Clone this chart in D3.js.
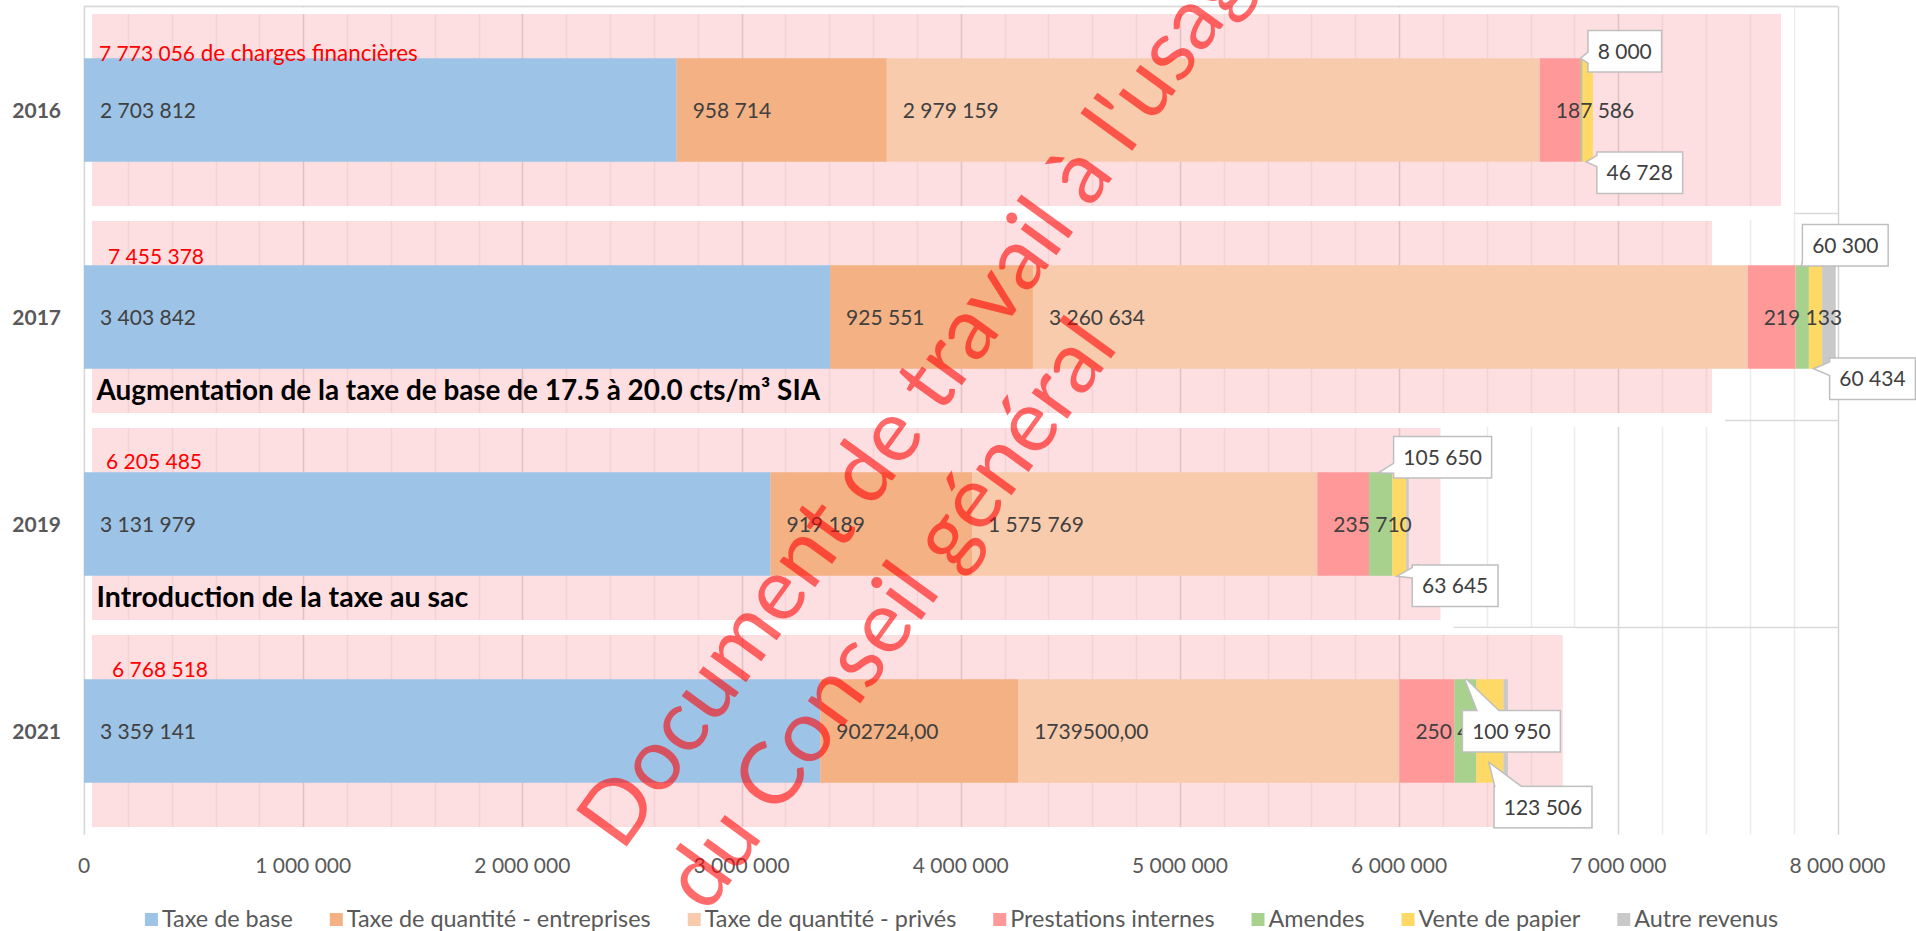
<!DOCTYPE html>
<html><head><meta charset="utf-8">
<script src="https://cdn.jsdelivr.net/npm/d3@7"></script>
<style>
html,body{margin:0;padding:0;background:#fff;overflow:hidden;}
svg{display:block;font-family:Lato,"Open Sans",sans-serif;}
</style></head><body>
<svg id="chart" width="1916" height="931"></svg>
<script>
// ---------------- DATA ----------------
const years = ["2016", "2017", "2019", "2021"];
const seriesNames = ["Taxe de base", "Taxe de quantité - entreprises", "Taxe de quantité - privés",
  "Prestations internes", "Amendes", "Vente de papier", "Autre revenus"];
const seriesColors = ["#9DC3E6", "#F4B183", "#F8CBAD", "#FF9999", "#A9D18E", "#FFD966", "#C9C9C9"];
const taxeDeBase          = [2703812, 3403842, 3131979, 3359141];
const taxeEntreprises     = [958714, 925551, 919189, 902724];
const taxePrives          = [2979159, 3260634, 1575769, 1739500];
const prestationsInternes = [187586, 219133, 235710, 250480];
const amendes             = [8000, 60300, 105650, 100950];
const venteDePapier       = [46728, 60434, 63645, 123506];
const autreRevenus        = [0, 62000, 12000, 20000];
const chargesFinancieres  = [7773056, 7455378, 6205485, 6768518];
const chargesSuffix       = [" de charges financières", "", "", ""];
const xTickValues = [0, 1000000, 2000000, 3000000, 4000000, 5000000, 6000000, 7000000, 8000000];
const annotationYears = ["2017", "2019"];
const annotationTexts = ["Augmentation de la taxe de base de 17.5 à 20.0 cts/m³ SIA", "Introduction de la taxe au sac"];
const rawFormatCells = ["2021|1", "2021|2"]; // labels shown as plain decimals in the source
const watermarkLines = ["Document de travail à l'usage", "du Conseil général"];

const seriesValues = [taxeDeBase, taxeEntreprises, taxePrives, prestationsInternes, amendes, venteDePapier, autreRevenus];
const rows = years.map((yr, i) => {
  const r = { year: yr };
  seriesValues.forEach((arr, s) => r[s] = arr[i]);
  return r;
});
const keys = seriesNames.map((_, i) => i);
const stacked = d3.stack().keys(keys)(rows);

// ---------------- LAYOUT ----------------
const svg = d3.select("#chart");
const FONT = 21;
const loc = d3.formatLocale({ decimal: ",", thousands: " ", grouping: [3], currency: ["", ""] });
const fmtGroup = loc.format(",.0f");
const fmtRaw = loc.format(".2f");

const x = d3.scaleLinear().domain([0, 8000000]).range([84, 1837.5]);
const y = d3.scaleBand().domain(years).range([6.5, 834.5]).paddingInner(0.5).paddingOuter(0.25);
const yCat = d3.scaleBand().domain(years).range([6.5, 834.5]);
const xPink = d3.scaleLinear().domain([0, 8000000]).range([92, 1830.4]);
const yPink = d3.scaleBand().domain(years).range([6.5, 834.5]).paddingInner(0.0725).paddingOuter(0.036);

const gridVals = d3.range(0, 8000001, 200000);
const isMajor = v => v % 1000000 === 0;
const gx = v => Math.round(x(v)) + 0.5;

// 1. gridlines on white
const gGrid = svg.append("g");
gGrid.selectAll("line.v").data(gridVals).join("line")
  .attr("x1", gx).attr("x2", gx).attr("y1", 6.5).attr("y2", 834.5)
  .attr("stroke", d => isMajor(d) ? "#D4D4D4" : "#ECECEC").attr("stroke-width", 1.5);
gGrid.selectAll("line.h").data(years).join("line")
  .attr("x1", 84).attr("x2", 1838).attr("y1", d => yCat(d)).attr("y2", d => yCat(d))
  .attr("stroke", "#D9D9D9").attr("stroke-width", 1.5);

// 2. white covers + pink bars (financial charges)
const covers = svg.append("g");
covers.selectAll("rect").data(years).join("rect")
  .attr("x", 85)
  .attr("y", d => Math.max(yPink(d) - 7, 7.5))
  .attr("width", (d, i) => xPink(chargesFinancieres[i]) + 13 - 85)
  .attr("height", d => yPink(d) + yPink.bandwidth() + 14 - Math.max(yPink(d) - 7, 7.5))
  .attr("fill", "#fff");
const defs = svg.append("defs");
const clip = defs.append("clipPath").attr("id", "pinkClip");
clip.selectAll("rect").data(years).join("rect")
  .attr("x", xPink(0)).attr("y", d => yPink(d))
  .attr("width", (d, i) => xPink(chargesFinancieres[i]) - xPink(0))
  .attr("height", yPink.bandwidth());
svg.append("g").selectAll("rect").data(years).join("rect")
  .attr("x", xPink(0)).attr("y", d => yPink(d))
  .attr("width", (d, i) => xPink(chargesFinancieres[i]) - xPink(0))
  .attr("height", yPink.bandwidth())
  .attr("fill", "#FDDFE1");
svg.append("g").attr("clip-path", "url(#pinkClip)")
  .selectAll("line").data(gridVals).join("line")
  .attr("x1", gx).attr("x2", gx).attr("y1", 6.5).attr("y2", 834.5)
  .attr("stroke", d => isMajor(d) ? "#E2C0C3" : "#F3D2D5").attr("stroke-width", 1.5);

// top border + category axis line
svg.append("line").attr("x1", 84).attr("x2", 1838).attr("y1", 6.5).attr("y2", 6.5)
  .attr("stroke", "#D9D9D9").attr("stroke-width", 1.5);
svg.append("line").attr("x1", 84.5).attr("x2", 84.5).attr("y1", 6.5).attr("y2", 834.5)
  .attr("stroke", "#D9D9D9").attr("stroke-width", 1.5);

// 3. stacked bars
const gBars = svg.append("g");
stacked.forEach((layer, s) => {
  gBars.append("g").attr("fill", seriesColors[s])
    .selectAll("rect").data(layer).join("rect")
    .attr("x", d => x(d[0])).attr("y", d => y(d.data.year))
    .attr("width", d => Math.max(0, x(d[1]) - x(d[0])))
    .attr("height", y.bandwidth());
});

// 4. red totals (financial charges)
const totalDx = [7, 16, 14, 20];
const totalDy = [2.5, -1, -3, -2.5];
const gTot = svg.append("g").attr("font-size", FONT).attr("fill", "#FF0000");
years.forEach((yr, i) => {
  const t = gTot.append("text")
    .attr("x", xPink(0) + totalDx[i])
    .attr("y", y(yr) + totalDy[i]);
  t.append("tspan").text(fmtGroup(chargesFinancieres[i]));
  if (chargesSuffix[i]) t.append("tspan").attr("font-size", 22.4).text(chargesSuffix[i]);
});

// 5. annotations
const annTargets = [724, 372];
const gAnn = svg.append("g");
annotationYears.forEach((yr, i) => {
  const t = gAnn.append("text")
    .attr("x", 96.5).attr("y", y(yr) + y.bandwidth() + 31)
    .attr("font-weight", 700).attr("font-size", 20).attr("fill", "#000")
    .text(annotationTexts[i]);
  const w = t.node().getComputedTextLength();
  t.attr("font-size", 20 * annTargets[i] / w);
});

// 6. inside data labels
const gLab = svg.append("g").attr("font-size", FONT).attr("fill", "#404040");
stacked.slice(0, 4).forEach((layer, s) => {
  gLab.selectAll(null).data(layer).join("text")
    .attr("x", d => x(d[0]) + 16)
    .attr("y", d => y(d.data.year) + y.bandwidth() / 2)
    .attr("dy", "0.36em")
    .text(d => rawFormatCells.includes(d.data.year + "|" + s) ? fmtRaw(d[1] - d[0]) : fmtGroup(d[1] - d[0]));
});

// 7. callouts for thin segments
const callouts = [
  { s: 4, year: "2016", at: 0,    dx: 43,  dy: -7,  edge: "left", f: [0.45, 0.85] },
  { s: 5, year: "2016", at: 1,    dx: 52,  dy: 11,  edge: "left", f: [0.02, 0.38] },
  { s: 4, year: "2017", at: 0,    dx: 43,  dy: -20, edge: "left", f: [0.6, 0.95] },
  { s: 5, year: "2017", at: 1,    dx: 57,  dy: 10,  edge: "left", f: [0.05, 0.45] },
  { s: 4, year: "2019", at: 0,    dx: 62,  dy: -15, edge: "left", f: [0.6, 0.88] },
  { s: 5, year: "2019", at: 1,    dx: 56,  dy: 10,  edge: "left", f: [0.0, 0.3] },
  { s: 4, year: "2021", at: 0,    dx: 46,  dy: 52,  edge: "top",  f: [0.17, 0.41] },
  { s: 5, year: "2021", at: 0.82, dx: 53,  dy: 43,  edge: "top",  f: [0.02, 0.33] }
];
const gCall = svg.append("g");
callouts.forEach(c => {
  const yi = years.indexOf(c.year);
  const seg = stacked[c.s][yi];
  const tipX = x((seg[0] + seg[1]) / 2);
  const tipY = y(c.year) + c.at * y.bandwidth();
  const g = gCall.append("g");
  const t = g.append("text").attr("font-size", FONT).attr("fill", "#404040")
    .attr("text-anchor", "middle").attr("dy", "0.36em")
    .attr("x", tipX + c.dx).attr("y", tipY + c.dy)
    .text(fmtGroup(seg[1] - seg[0]));
  const tw = t.node().getComputedTextLength();
  const bw = tw + 18, bh = 40;
  const x0 = tipX + c.dx - bw / 2, y0 = tipY + c.dy - bh / 2;
  let b1, b2;
  if (c.edge === "left") { b1 = [x0 + 4, y0 + c.f[0] * bh]; b2 = [x0 + 4, y0 + c.f[1] * bh]; }
  else { b1 = [x0 + c.f[0] * bw, y0 + 4]; b2 = [x0 + c.f[1] * bw, y0 + 4]; }
  const tri = `M${tipX},${tipY}L${b1[0]},${b1[1]}L${b2[0]},${b2[1]}Z`;
  const shapes = (fill, stroke, sw) => {
    g.insert("rect", "text").attr("x", x0).attr("y", y0).attr("width", bw).attr("height", bh)
      .attr("fill", fill).attr("stroke", stroke).attr("stroke-width", sw).attr("stroke-linejoin", "miter");
    g.insert("path", "text").attr("d", tri).attr("fill", fill).attr("stroke", stroke).attr("stroke-width", sw)
      .attr("stroke-linejoin", "miter");
  };
  shapes("#BFBFBF", "#BFBFBF", 3);
  shapes("#FFFFFF", "none", 0);
});

// 8. category labels
svg.append("g").selectAll("text").data(years).join("text")
  .attr("x", 61).attr("y", d => y(d) + y.bandwidth() / 2).attr("dy", "0.36em")
  .attr("text-anchor", "end").attr("font-weight", 700).attr("font-size", FONT).attr("fill", "#595959")
  .text(d => d);

// 9. x axis tick labels
svg.append("g").selectAll("text").data(xTickValues).join("text")
  .attr("x", d => x(d)).attr("y", 873).attr("text-anchor", "middle")
  .attr("font-size", FONT).attr("fill", "#595959")
  .text(d => fmtGroup(d));

// 10. legend
const gLeg = svg.append("g");
const items = seriesNames.map((n, i) => {
  const g = gLeg.append("g");
  g.append("rect").attr("x", 0).attr("y", 913).attr("width", 13).attr("height", 13).attr("fill", seriesColors[i]);
  const t = g.append("text").attr("x", 17).attr("y", 926.5).attr("font-size", 23.4).attr("fill", "#595959").text(n);
  return { g, w: 17 + t.node().getComputedTextLength() };
});
const gap = 37;
const total = d3.sum(items, d => d.w) + gap * (items.length - 1);
let cx = 961.5 - total / 2;
items.forEach(it => { it.g.attr("transform", `translate(${cx},0)`); cx += it.w + gap; });

// 11. watermark
const wm = svg.append("g").attr("transform", "translate(622,853) rotate(-54)")
  .attr("font-size", 87).attr("fill", "rgba(255,0,0,0.58)");
watermarkLines.forEach((l, i) => wm.append("text").attr("x", 0).attr("y", i * 105).text(l));
</script>
</body></html>
